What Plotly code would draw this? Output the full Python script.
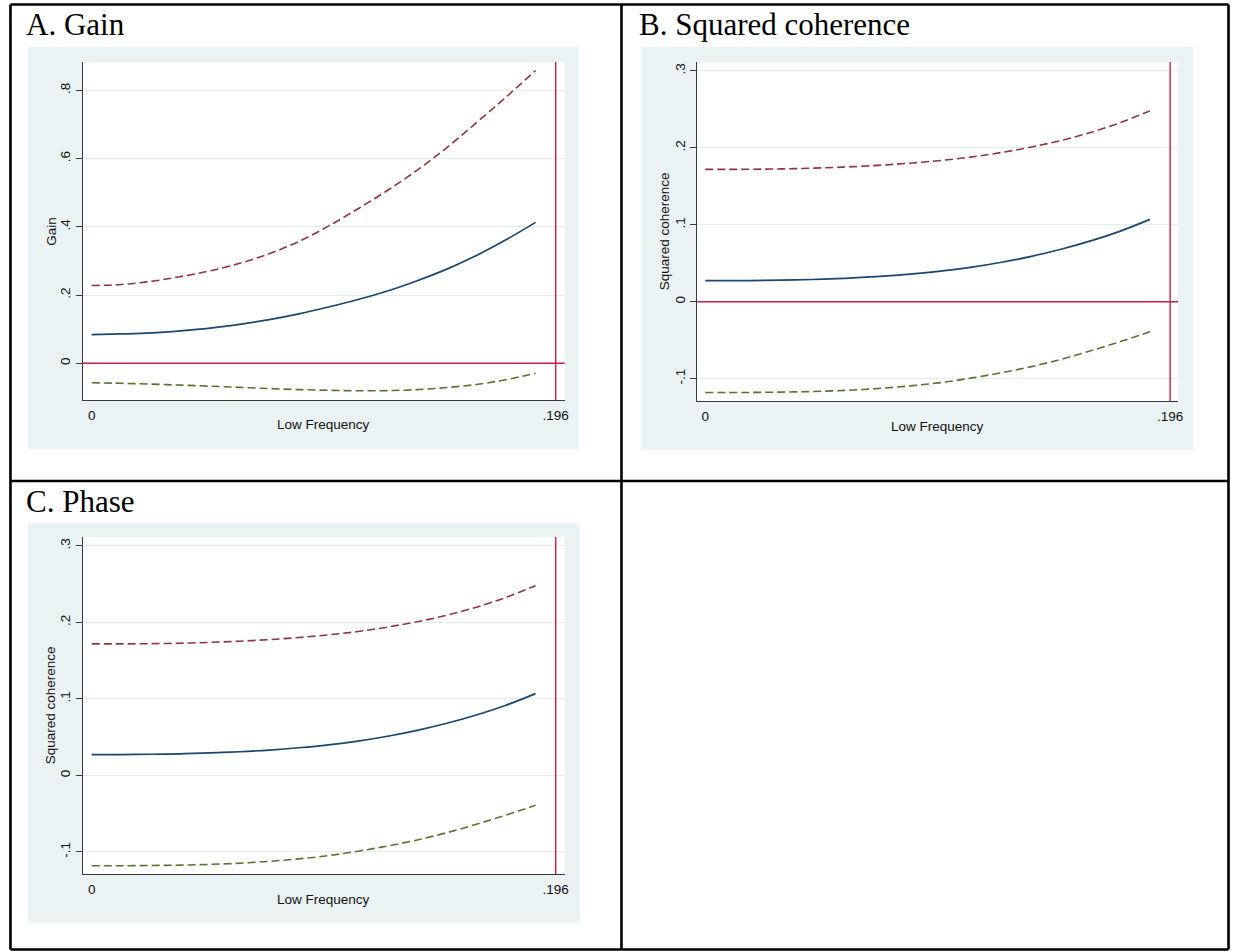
import plotly.graph_objects as go

W, H = 1235, 951

# ---------------- data ----------------
freq = [0.0, 0.0125, 0.025, 0.0375, 0.05, 0.0625, 0.075, 0.0875,
        0.1, 0.1125, 0.125, 0.1375, 0.15, 0.1625, 0.175, 0.1875]

gain = [0.084, 0.086, 0.089, 0.095, 0.103, 0.114, 0.128, 0.145,
        0.165, 0.187, 0.212, 0.242, 0.276, 0.316, 0.362, 0.413]
gain_hi = [0.228, 0.231, 0.240, 0.254, 0.271, 0.293, 0.321, 0.357,
           0.402, 0.453, 0.507, 0.566, 0.632, 0.705, 0.780, 0.858]
gain_lo = [-0.057, -0.0585, -0.061, -0.064, -0.067, -0.0705, -0.074, -0.077,
           -0.079, -0.0805, -0.080, -0.077, -0.071, -0.062, -0.048, -0.029]

coh = [0.0273, 0.0273, 0.0277, 0.0283, 0.0294, 0.0310, 0.0332, 0.0362,
       0.0400, 0.0450, 0.0513, 0.0590, 0.0682, 0.0790, 0.0918, 0.107]
coh_hi = [0.172, 0.172, 0.1723, 0.1729, 0.1740, 0.1755, 0.1776, 0.1803,
          0.1838, 0.1882, 0.1940, 0.2010, 0.2095, 0.2200, 0.2327, 0.248]
coh_lo = [-0.118, -0.118, -0.1177, -0.1172, -0.1162, -0.1147, -0.1123, -0.109,
          -0.1048, -0.0990, -0.0922, -0.0843, -0.0748, -0.0638, -0.0518, -0.039]

# panel C (labelled "Phase") shows the same series as panel B
phase = coh
phase_hi = coh_hi
phase_lo = coh_lo

xline_value = 0.196
yline_value = 0.0

x_tickvals = [0, 0.196]
x_ticktext = ["0", ".196"]
gain_tickvals = [0, 0.2, 0.4, 0.6, 0.8]
gain_ticktext = ["0", ".2", ".4", ".6", ".8"]
coh_tickvals = [-0.1, 0, 0.1, 0.2, 0.3]
coh_ticktext = ["-.1", "0", ".1", ".2", ".3"]

panel_titles = ["A. Gain", "B. Squared coherence", "C. Phase"]
y_titles = ["Gain", "Squared coherence", "Squared coherence"]
x_title = "Low Frequency"

# ---------------- styling ----------------
NAVY = "#1a476f"
MAROON = "#90353b"
GREEN = "#55752f"
REDLINE = "#c81e46"
PANEL_BG = "#eaf2f3"
GRID = "#e4ecee"
AXIS = "#3a3a3a"
SANS = "Liberation Sans, Arial, sans-serif"
SERIF = "Liberation Serif, Times New Roman, serif"
DASH = "8px,4px"


def fx(px):
    return px / W


def fy(py):
    return 1 - py / H


# pixel layout of each panel: plot area (x0,x1,y0,y1), grey region, ranges
panels = [
    dict(ax="", plot=(83, 567, 62, 400), bg=(28, 581, 47, 449),
         xr=[-0.0038, 0.1998], yr=[-0.1075, 0.8829],
         y=(gain, gain_hi, gain_lo), tv=gain_tickvals, tt=gain_ticktext,
         title=(24, 24.5), ytitle_x=51, xtitle_y=424.5, hline=True),
    dict(ax="2", plot=(700, 1183, 62, 401), bg=(644, 1198, 47, 450),
         xr=[-0.0034, 0.1994], yr=[-0.129, 0.3115],
         y=(coh, coh_hi, coh_lo), tv=coh_tickvals, tt=coh_ticktext,
         title=(640, 24.5), ytitle_x=667.5, xtitle_y=426.5, hline=True),
    dict(ax="3", plot=(83, 567, 537, 874), bg=(28, 582, 523, 923),
         xr=[-0.0038, 0.1998], yr=[-0.1288, 0.3117],
         y=(phase, phase_hi, phase_lo), tv=coh_tickvals, tt=coh_ticktext,
         title=(24, 501.5), ytitle_x=51, xtitle_y=899.5, hline=False),
]

fig = go.Figure()
shapes = []
annotations = []

for i, p in enumerate(panels):
    xa = "x" + p["ax"]
    ya = "y" + p["ax"]
    x0, x1, y0, y1 = p["plot"]
    bx0, bx1, by0, by1 = p["bg"]

    # grey graph region and white plot region
    shapes.append(dict(type="rect", xref="paper", yref="paper", layer="below",
                       x0=fx(bx0), x1=fx(bx1), y0=fy(by1), y1=fy(by0),
                       fillcolor=PANEL_BG, line=dict(width=0)))
    shapes.append(dict(type="rect", xref="paper", yref="paper", layer="below",
                       x0=fx(x0), x1=fx(x1), y0=fy(y1), y1=fy(y0),
                       fillcolor="white", line=dict(width=0)))

    mid, hi, lo = p["y"]
    fig.add_trace(go.Scatter(x=freq, y=hi, mode="lines", xaxis=xa, yaxis=ya,
                             line=dict(color=MAROON, width=1.6, dash=DASH, shape="spline"),
                             showlegend=False, hoverinfo="skip"))
    fig.add_trace(go.Scatter(x=freq, y=mid, mode="lines", xaxis=xa, yaxis=ya,
                             line=dict(color=NAVY, width=1.7, shape="spline"),
                             showlegend=False, hoverinfo="skip"))
    fig.add_trace(go.Scatter(x=freq, y=lo, mode="lines", xaxis=xa, yaxis=ya,
                             line=dict(color=GREEN, width=1.6, dash=DASH, shape="spline"),
                             showlegend=False, hoverinfo="skip"))

    # reference lines
    if p["hline"]:
        shapes.append(dict(type="line", xref=xa + " domain", yref=ya, layer="above",
                           x0=0, x1=1, y0=yline_value, y1=yline_value,
                           line=dict(color=REDLINE, width=1.4)))
    shapes.append(dict(type="line", xref=xa, yref=ya + " domain", layer="above",
                       x0=xline_value, x1=xline_value, y0=0, y1=1,
                       line=dict(color=REDLINE, width=1.4)))

    xkey = "xaxis" + p["ax"]
    ykey = "yaxis" + p["ax"]
    fig.update_layout(**{
        xkey: dict(domain=[fx(x0), fx(x1)], range=p["xr"], anchor=ya,
                   tickvals=x_tickvals, ticktext=x_ticktext,
                   ticks="outside", ticklen=3, tickcolor="rgba(0,0,0,0)",
                   showgrid=False, zeroline=False, showline=True,
                   linecolor=AXIS, linewidth=1.2, mirror=False,
                   tickfont=dict(family=SANS, size=13.5, color="#111")),
        ykey: dict(domain=[fy(y1), fy(y0)], range=p["yr"], anchor=xa,
                   tickvals=p["tv"], ticktext=p["tt"], tickangle=-90,
                   ticks="outside", ticklen=6, tickwidth=1, tickcolor=AXIS,
                   showgrid=True, gridcolor=GRID, gridwidth=1,
                   zeroline=False, showline=True, linecolor=AXIS, linewidth=1.2,
                   tickfont=dict(family=SANS, size=13.5, color="#111")),
    })

    # panel title
    tx, ty = p["title"]
    annotations.append(dict(text=panel_titles[i], xref="paper", yref="paper",
                            x=fx(tx), y=fy(ty), xanchor="left", yanchor="middle",
                            showarrow=False,
                            font=dict(family=SERIF, size=31, color="black")))
    # axis titles
    annotations.append(dict(text=x_title, xref="paper", yref="paper",
                            x=fx((x0 + x1) / 2), y=fy(p["xtitle_y"]),
                            xanchor="center", yanchor="middle", showarrow=False,
                            font=dict(family=SANS, size=13.5, color="#111")))
    annotations.append(dict(text=y_titles[i], xref="paper", yref="paper",
                            x=fx(p["ytitle_x"]), y=fy((y0 + y1) / 2),
                            xanchor="center", yanchor="middle", showarrow=False,
                            textangle=-90,
                            font=dict(family=SANS, size=13.5, color="#111")))

# table borders
BW = 2.6
for (ax0, ay0, ax1, ay1) in [
    (10.5, 4.5, 1233.5, 4.5),     # top
    (10.5, 481, 1233.5, 481),     # middle horizontal
    (10.5, 949.5, 1233.5, 949.5), # bottom
    (10.5, 4.5, 10.5, 949.5),     # left
    (624, 4.5, 624, 949.5),       # middle vertical
    (1233.5, 4.5, 1233.5, 949.5), # right
]:
    shapes.append(dict(type="line", xref="paper", yref="paper", layer="above",
                       x0=fx(ax0), y0=fy(ay0), x1=fx(ax1), y1=fy(ay1),
                       line=dict(color="black", width=BW)))

fig.update_layout(
    width=W, height=H,
    margin=dict(l=0, r=0, t=0, b=0),
    paper_bgcolor="white",
    plot_bgcolor="rgba(0,0,0,0)",
    shapes=shapes,
    annotations=annotations,
    showlegend=False,
)

fig.write_html("out.html", config={"displayModeBar": False},
               post_script="document.body.style.margin='0';document.body.style.overflow='hidden';")
